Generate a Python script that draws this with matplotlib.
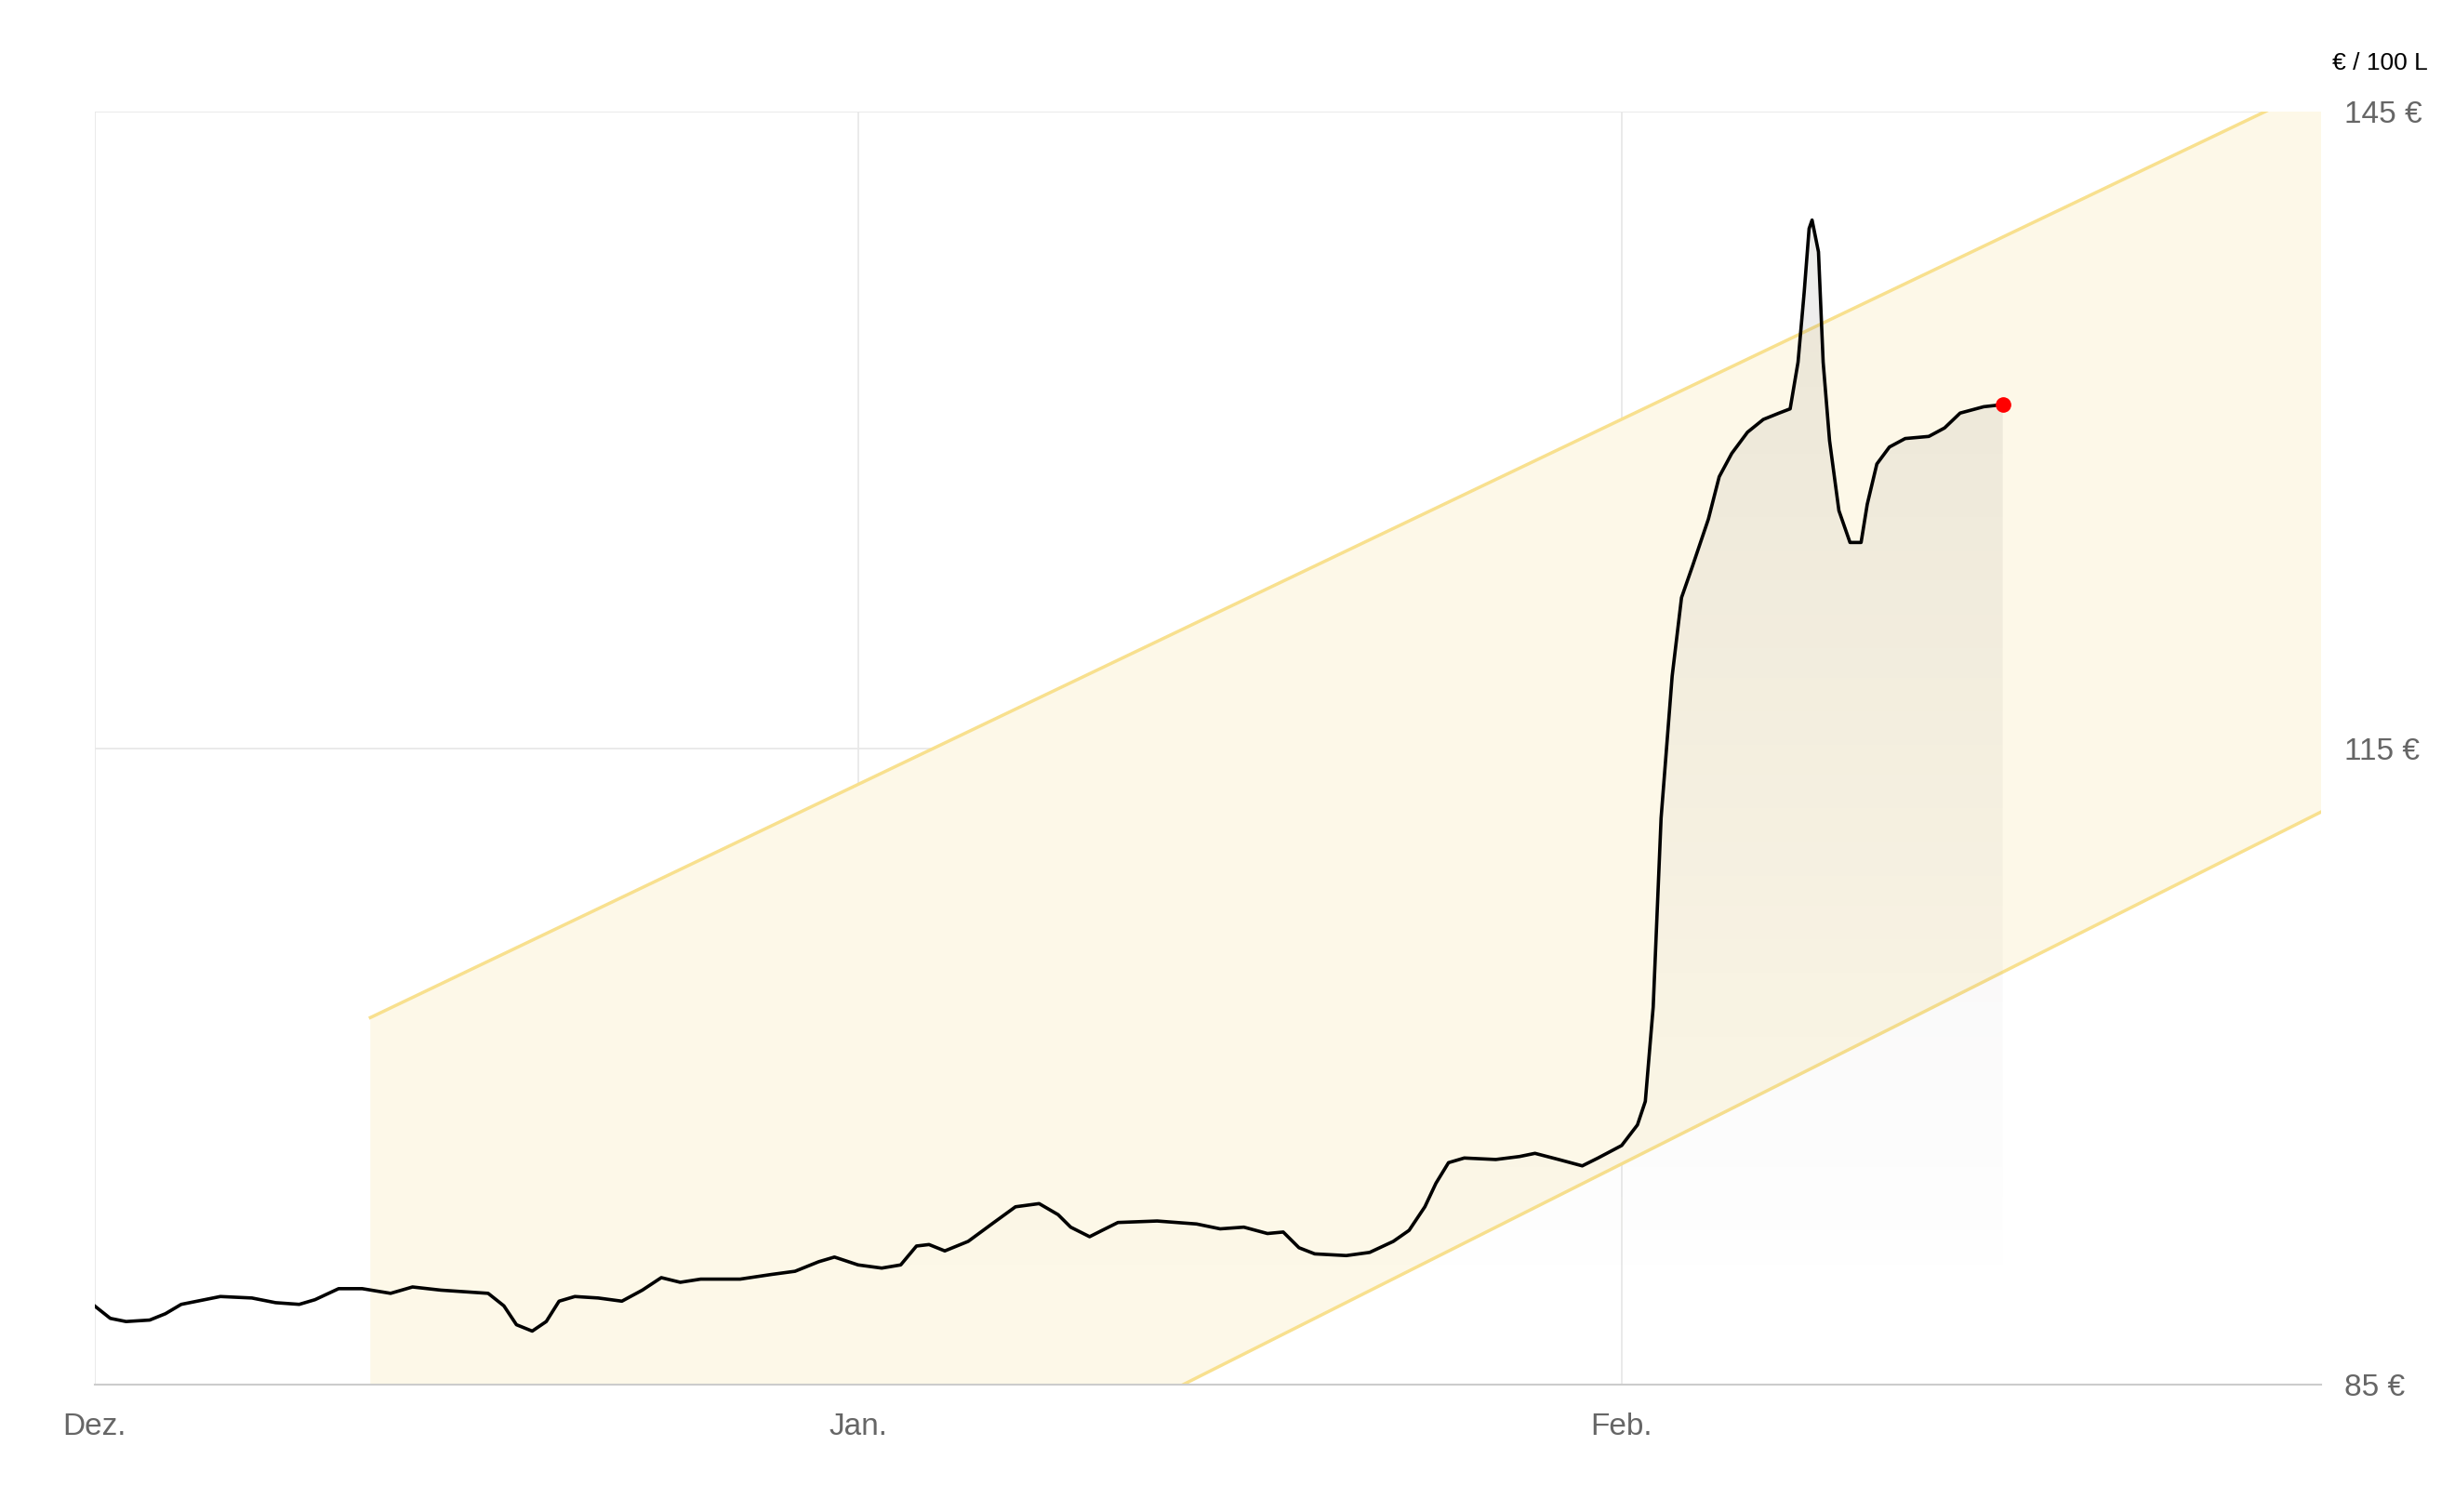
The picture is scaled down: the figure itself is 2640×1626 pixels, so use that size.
import matplotlib
matplotlib.use("Agg")
import matplotlib.pyplot as plt
import numpy as np
from matplotlib.patches import Polygon

plt.rcParams['font.family'] = ['Liberation Sans', 'DejaVu Sans']

days = [0,0.64,1.28,2.24,2.88,3.52,5.11,6.39,7.35,8.31,8.95,9.91,10.87,12.02,12.91,14.06,15.98,16.62,17.13,17.77,18.34,18.86,19.5,20.45,21.41,22.24,23.01,23.78,24.61,26.21,27.48,28.44,29.4,30.04,31.0,31.96,32.73,33.37,33.88,34.52,35.47,36.43,37.39,38.35,39.12,39.63,40.4,40.91,41.55,43.14,44.74,45.7,46.66,47.62,48.26,48.9,49.54,50.82,51.77,52.73,53.37,54.01,54.46,54.97,55.61,56.89,57.85,58.48,59.44,60.4,61.04,62.0,62.64,62.96,63.28,63.6,64.05,64.43,64.88,65.52,65.96,66.47,67.11,67.75,68.39,68.84,69.16,69.41,69.61,69.73,69.99,70.18,70.44,70.82,71.27,71.72,71.97,72.36,72.87,73.51,74.47,75.11,75.74,76.7,77.47]
prices = [88.71,88.12,87.97,88.04,88.34,88.78,89.15,89.08,88.86,88.78,89.0,89.52,89.52,89.30,89.60,89.45,89.30,88.71,87.82,87.52,87.97,88.93,89.15,89.08,88.93,89.45,90.04,89.82,89.97,89.97,90.19,90.34,90.79,91.01,90.64,90.49,90.64,91.53,91.60,91.30,91.75,92.57,93.38,93.53,93.01,92.42,91.97,92.27,92.64,92.71,92.57,92.34,92.42,92.12,92.19,91.45,91.16,91.08,91.23,91.75,92.27,93.38,94.49,95.46,95.68,95.61,95.75,95.90,95.61,95.31,95.68,96.27,97.24,98.35,102.8,111.7,118.4,122.1,123.6,125.8,127.8,128.9,129.9,130.5,130.8,131.0,133.2,136.5,139.5,139.9,138.4,133.2,129.5,126.2,124.7,124.7,126.5,128.4,129.2,129.6,129.7,130.1,130.8,131.1,131.2]

tick_pos = [0, 31, 62]
tick_labels = ["Dez.", "Jan.", "Feb."]
y_ticks = [85, 115, 145]
y_labels = ["85 €", "115 €", "145 €"]
# channel: (start day, value) and slope
upper_pts = ([11.2, 88.1], [102.3, 145.0])
lower_pts = ([44.2, 90.4], [85.0, 112.0])

fig = plt.figure(figsize=(26.4, 16.26), dpi=100)
ax = fig.add_axes([0.0385, 0.0843, 0.9070, 0.8417])
xmax = 90.4
ax.set_xlim(0, xmax)
ax.set_ylim(85, 145)

su = (upper_pts[1][1]-upper_pts[1][0])/(upper_pts[0][1]-upper_pts[0][0])
sl = (lower_pts[1][1]-lower_pts[1][0])/(lower_pts[0][1]-lower_pts[0][0])
xs = np.array([upper_pts[0][0], xmax])
up = upper_pts[1][0] + su*(xs-upper_pts[0][0])
lo = lower_pts[1][0] + sl*(xs-lower_pts[0][0])
ax.fill_between(xs, lo, up, color='#fdf8e8', zorder=1, lw=0)
ax.plot(xs, up, color='#f8e08e', lw=2.5, zorder=2)
ax.plot(xs, lo, color='#f8e08e', lw=2.5, zorder=2)

# gradient under line
base = 89.08
grad = np.linspace(1, 0, 256).reshape(-1, 1)
rgba = np.zeros((256, 1, 4))
rgba[..., 0] = 0.45; rgba[..., 1] = 0.42; rgba[..., 2] = 0.40
rgba[..., 3] = 0.13*grad[:, 0:1]
img = ax.imshow(rgba, extent=[days[0], days[-1], base, 140], aspect='auto', zorder=3, origin='upper')
verts = [(days[0], base)] + list(zip(days, prices)) + [(days[-1], base)]
poly = Polygon(verts, closed=True, transform=ax.transData, facecolor='none', edgecolor='none')
ax.add_patch(poly)
img.set_clip_path(poly)

ax.plot(days, prices, color='black', lw=2.6, zorder=5, solid_joinstyle='round')
ax.plot(days[-1], prices[-1], 'o', color='#ff0000', ms=11, zorder=6)

for t in tick_pos:
    ax.axvline(t, color='#e8e8e8', lw=1.3, zorder=0)
for y in y_ticks[1:]:
    ax.axhline(y, color='#e8e8e8', lw=1.3, zorder=0)
for s in ['top', 'right', 'left']:
    ax.spines[s].set_visible(False)
ax.spines['bottom'].set_color('#cccccc')
ax.spines['bottom'].set_linewidth(1.5)

ax.set_xticks(tick_pos)
ax.set_xticklabels(tick_labels)
ax.yaxis.tick_right()
ax.set_yticks(y_ticks)
ax.set_yticklabels(y_labels)
ax.tick_params(axis='both', length=0, labelsize=24, labelcolor='#666666')
ax.tick_params(axis='x', pad=22)
ax.tick_params(axis='y', pad=18)
fig.text(0.989, 0.958, "€ / 100 L", ha='right', va='center', fontsize=19, color='black')

fig.savefig("out.png", dpi=100)
